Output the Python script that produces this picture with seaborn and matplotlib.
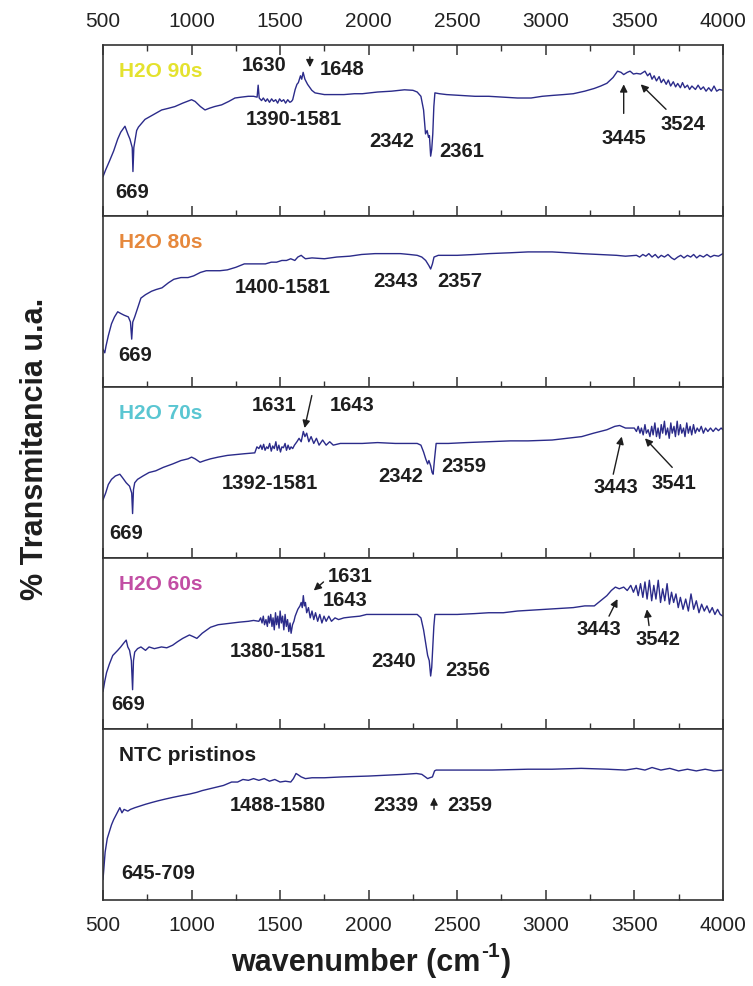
import matplotlib
matplotlib.use("Agg")
import matplotlib.pyplot as plt
from matplotlib.ticker import MultipleLocator
import pandas as pd
import seaborn as sns

# ---- FTIR spectra (wavenumber in cm-1, transmittance in arbitrary units) ----
wn_90 = [500, 515, 536, 560, 583, 600, 624, 640, 652, 665,
         669, 674, 690, 700, 737, 780, 831, 870, 906, 950,
         1000, 1020, 1050, 1076, 1100, 1130, 1170, 1210, 1245, 1280,
         1320, 1350, 1370, 1376, 1382, 1395, 1405, 1418, 1428, 1440,
         1452, 1463, 1475, 1486, 1497, 1508, 1520, 1531, 1543, 1555,
         1564, 1571, 1585, 1595, 1603, 1615, 1622, 1630, 1640, 1655,
         1679, 1697, 1750, 1810, 1860, 1920, 1964, 2050, 2130, 2202,
         2250, 2274, 2295, 2310, 2321, 2330, 2338, 2343, 2350, 2356,
         2362, 2368, 2374, 2400, 2440, 2520, 2600, 2678, 2760, 2840,
         2917, 2980, 3036, 3100, 3155, 3220, 3274, 3310, 3345, 3380,
         3405, 3425, 3440, 3460, 3476, 3495, 3512, 3535, 3560, 3575,
         3588, 3600, 3612, 3625, 3640, 3652, 3665, 3680, 3692, 3705,
         3720, 3733, 3745, 3760, 3772, 3785, 3800, 3812, 3825, 3845,
         3860, 3875, 3890, 3905, 3920, 3935, 3950, 3965, 3980, 4000]
t_90 = [23, 27, 32, 38, 45, 49, 52.5, 48, 45, 40,
        26, 40, 50, 52, 56.5, 59, 62, 63, 64, 66,
        68, 67, 64, 62, 63, 64, 65, 67, 69, 69.5,
        70, 70, 69.5, 76.5, 69, 67.5, 69, 67, 68.5, 66.5,
        68.5, 67, 68, 66, 68.5, 67, 68, 66, 68, 66.5,
        67, 68, 74, 77, 78, 82, 80, 84, 80, 77,
        73.5, 72, 71, 71, 71, 71.5, 71.5, 72.5, 73, 73.8,
        73.5, 72.5, 70, 62, 48, 50, 46, 47, 35, 39,
        48, 64, 72, 71.5, 71, 70.5, 70, 70, 69.5, 69,
        69, 70, 70.5, 71, 71.5, 73, 74.6, 76, 77.6, 81,
        84.7, 84, 82.7, 84, 84.7, 83, 83.4, 83, 84.7, 82,
        83.5, 80, 82, 79, 81.5, 78, 80, 77, 79.5, 76,
        78.5, 75.5, 77.5, 75, 78, 75, 76.5, 74, 76, 74,
        76.5, 74, 75.5, 73, 75, 73, 76, 73, 74, 73.5]

wn_80 = [500, 510, 517, 530, 548, 565, 583, 600, 619, 643, 655, 662, 668, 679, 695, 714, 740, 774, 800, 833,
         870, 900, 940, 980, 1012, 1050, 1083, 1120, 1160, 1202, 1250, 1298, 1340, 1380, 1417, 1450, 1480, 1510,
         1536, 1560, 1583, 1600, 1619, 1630, 1643, 1680, 1750, 1820, 1893, 1960, 2036, 2110, 2179, 2230, 2274,
         2300, 2322, 2340, 2350, 2360, 2369, 2393, 2500, 2600, 2678, 2800, 2900, 3036, 3120, 3200, 3300, 3400,
         3450, 3512, 3530, 3548, 3565, 3582, 3600, 3618, 3635, 3652, 3670, 3690, 3710, 3726, 3745, 3762, 3780,
         3800, 3818, 3835, 3852, 3870, 3890, 3910, 3930, 3950, 3975, 4000]
t_80 = [22, 20, 24, 30, 37, 41, 44, 43, 42, 41, 38, 28, 38, 41, 46, 52, 54, 56, 57, 58,
        61, 63, 64, 64, 65, 67, 68, 68, 68, 68.5, 70, 72, 72, 72, 72, 73, 73, 74,
        74, 75, 74, 76, 77, 76, 75, 75.5, 75, 76, 76.5, 77.5, 78, 78, 78, 77.5, 77,
        76, 74, 71, 69, 72, 76, 77, 77, 77.5, 78, 78.5, 79, 79, 78.5, 78, 77.5, 77,
        76.5, 77, 76, 77.5, 76.5, 78, 76, 77.5, 75.5, 77, 76, 77.5, 75.5, 74.5, 76, 77, 75.5,
        77, 76, 77.5, 75.5, 77, 76, 77.5, 76, 77, 76.5, 78]

wn_70 = [500, 515, 530, 548, 570, 595, 610, 631, 650, 662, 667, 672, 679, 695, 726, 760, 798, 840, 893, 940,
         980, 1000, 1020, 1048, 1075, 1107, 1150, 1202, 1250, 1300, 1357, 1369, 1380, 1390, 1398, 1407, 1415,
         1424, 1432, 1441, 1450, 1458, 1467, 1476, 1484, 1493, 1502, 1510, 1519, 1528, 1536, 1545, 1554, 1562,
         1571, 1581, 1595, 1607, 1619, 1631, 1640, 1650, 1662, 1675, 1690, 1705, 1720, 1740, 1760, 1780, 1800,
         1840, 1900, 1964, 2050, 2150, 2274, 2295, 2310, 2322, 2333, 2340, 2350, 2358, 2364, 2372, 2381, 2450,
         2550, 2678, 2800, 2900, 3036, 3120, 3203, 3270, 3345, 3390, 3417, 3450, 3488, 3500, 3512, 3522, 3532,
         3540, 3550, 3560, 3568, 3578, 3588, 3598, 3606, 3616, 3625, 3634, 3643, 3652, 3660, 3670, 3678, 3688,
         3697, 3706, 3714, 3724, 3732, 3742, 3750, 3760, 3768, 3778, 3786, 3796, 3805, 3815, 3824, 3834, 3844,
         3855, 3866, 3878, 3890, 3902, 3915, 3930, 3945, 3960, 3975, 3990, 4000]
t_70 = [34, 38, 43, 46, 48, 49, 47, 44, 42, 38, 26, 40, 44, 46, 48, 50, 51, 53, 55, 57,
        58, 59, 58, 56, 57, 58, 59, 60, 60.5, 61, 61.5, 65, 64, 66, 63.5, 66.5, 63,
        65, 64, 67, 62.5, 65.5, 64, 68, 63, 66, 62, 65, 64.5, 67, 63, 66, 63.5, 65,
        64, 66, 68, 70, 68, 74, 71, 73, 68, 71, 67, 70, 66, 69, 66, 68, 66,
        67, 67, 67, 67.5, 67, 67, 66, 62, 58, 55, 57, 54, 50, 49, 58, 67, 67,
        67.5, 68, 68.5, 68.5, 69, 70, 71, 73, 75, 77, 77.5, 76, 76, 76, 74, 77, 73,
        76, 72, 78, 73, 75, 71, 77, 72, 79, 71, 76, 70, 78, 73, 80, 72, 76,
        70, 79, 73, 77, 71, 80, 72, 78, 73, 76, 71, 79, 73, 77, 72, 78, 73,
        76, 74, 77, 73, 76, 74, 76, 74, 76, 74.5, 76, 75]

wn_60 = [500, 510, 520, 536, 555, 583, 600, 615, 631, 640, 650, 660, 667, 672, 679, 695, 714, 740, 760, 790,
         830, 860, 893, 920, 950, 988, 1010, 1030, 1060, 1107, 1150, 1190, 1226, 1270, 1321, 1350, 1380, 1390,
         1398, 1405, 1412, 1420, 1428, 1434, 1440, 1447, 1454, 1460, 1467, 1474, 1480, 1487, 1494, 1500, 1507,
         1514, 1521, 1528, 1535, 1542, 1549, 1556, 1562, 1570, 1578, 1585, 1600, 1612, 1619, 1625, 1631, 1637,
         1643, 1650, 1660, 1670, 1680, 1690, 1700, 1712, 1724, 1736, 1748, 1760, 1775, 1790, 1810, 1830, 1860,
         1900, 1950, 1988, 2050, 2150, 2230, 2274, 2295, 2310, 2322, 2333, 2342, 2350, 2356, 2362, 2368, 2374,
         2420, 2500, 2600, 2678, 2760, 2840, 2917, 3000, 3080, 3155, 3220, 3274, 3310, 3345, 3370, 3393, 3415,
         3440, 3460, 3480, 3495, 3510, 3522, 3535, 3548, 3560, 3572, 3585, 3598, 3610, 3622, 3635, 3648, 3660,
         3672, 3685, 3698, 3710, 3722, 3735, 3748, 3760, 3775, 3790, 3805, 3820, 3835, 3850, 3865, 3880, 3895,
         3910, 3925, 3940, 3955, 3970, 3985, 4000]
t_60 = [22, 28, 33, 38, 43, 46, 48, 50, 52, 48, 46, 40, 23, 40, 45, 47, 48, 46, 48, 47,
        48, 47.5, 49, 51, 53, 55, 54, 53, 56, 59.5, 61, 61.5, 62, 62.5, 63, 63.5, 63, 65,
        62, 66, 61, 64, 60, 66, 62, 67, 60, 65, 58, 68, 61, 66, 59, 69, 62,
        66, 58, 67, 60, 64, 57, 62, 56, 61, 63, 66, 70, 72, 74, 71, 78, 72,
        74, 68, 71, 65, 69, 64, 68, 63, 67, 62, 66, 63, 66, 63, 65, 64, 65,
        65.5, 66, 67, 67, 67, 67, 67, 65, 58, 50, 43, 40, 31, 36, 48, 60, 67,
        67, 67, 67.5, 68, 68, 69, 69.5, 70, 70.5, 71, 72, 72, 75, 78, 81, 83, 82,
        83, 81, 84, 80, 84, 78, 85, 77, 86, 76, 87, 75, 84, 76, 87, 74, 82,
        75, 85, 73, 80, 74, 79, 71, 77, 70, 76, 69, 79, 70, 75, 68, 73, 69,
        72, 68, 71, 67, 70, 67, 66]

wn_ntc = [500, 506, 512, 518, 524, 536, 548, 560, 575, 595, 607, 619, 640, 655, 680, 710, 740, 774, 810, 850,
          893, 940, 990, 1030, 1060, 1100, 1140, 1180, 1226, 1260, 1290, 1321, 1350, 1380, 1410, 1440, 1470,
          1500, 1530, 1560, 1575, 1590, 1605, 1619, 1643, 1680, 1750, 1850, 2000, 2100, 2200, 2270, 2300, 2320,
          2333, 2345, 2360, 2372, 2381, 2500, 2700, 2900, 3036, 3200, 3350, 3450, 3512, 3560, 3600, 3650, 3700,
          3750, 3800, 3850, 3900, 3950, 4000]
t_ntc = [12, 20, 28, 32, 36, 40, 44, 47, 50, 54, 51, 53, 52, 53, 54, 55, 56, 57, 58, 59,
         60, 61, 62, 63, 64, 65, 66, 67, 69, 69, 70.5, 70, 71, 70, 71, 69.5, 70.5,
         69, 69.5, 69, 71, 74, 73, 72, 71, 71.5, 71.5, 72, 72.5, 73, 73.5, 74, 73.5, 72,
         71, 71.5, 72, 75.5, 76, 76, 76, 76.5, 76.5, 77, 76.5, 76, 77, 76, 77.5, 76, 77,
         75.5, 76.5, 75.5, 76.5, 75.5, 76]

samples = ["H2O 90s", "H2O 80s", "H2O 70s", "H2O 60s", "NTC pristinos"]
sample_colors = ["#e4e22e", "#e6883c", "#5ac6d2", "#c24ea4", "#1e1e1e"]
spectra = [(wn_90, t_90), (wn_80, t_80), (wn_70, t_70), (wn_60, t_60), (wn_ntc, t_ntc)]

# peak labels per panel: (text, wavenumber, transmittance)
peak_labels = [
    [("669", 667, 14.5), ("1630", 1412, 88.8), ("1648", 1850, 86), ("1390-1581", 1575, 57),
     ("2342", 2131, 44), ("2361", 2524, 38.5), ("3445", 3440, 46), ("3524", 3774, 54)],
    [("669", 679, 19), ("1400-1581", 1512, 59), ("2343", 2155, 62), ("2357", 2512, 62)],
    [("669", 631, 15), ("1631", 1464, 89.5), ("1643", 1905, 89.5), ("1392-1581", 1440, 44),
     ("2342", 2179, 48), ("2359", 2536, 54), ("3443", 3393, 42), ("3541", 3726, 44)],
    [("669", 643, 15), ("1631", 1893, 90), ("1643", 1869, 76), ("1380-1581", 1488, 46),
     ("2340", 2143, 40), ("2356", 2560, 35), ("3443", 3298, 58.5), ("3542", 3631, 53)],
    [("645-709", 810, 16), ("1488-1580", 1488, 56), ("2339", 2155, 56), ("2359", 2571, 56)],
]

# arrows per panel: (tail wavenumber, tail T, head wavenumber, head T)
peak_arrows = [
    [(1668, 93, 1668, 87), (3440, 60, 3440, 77), (3679, 62.4, 3536, 77)],
    [],
    [(1679, 95, 1638, 76), (3381, 49, 3429, 71), (3714, 53, 3560, 70)],
    [(1745, 86, 1690, 81), (3357, 66, 3405, 76), (3583, 60.5, 3571, 70)],
    [(2369, 53, 2369, 60)],
]

sns.set_style("white")
plt.rcParams["font.family"] = ["Liberation Sans", "DejaVu Sans"]
line_color = "#2b2b8a"
ink = "#1e1e1e"

fig, axes = plt.subplots(5, 1, figsize=(7.53, 9.87), dpi=100, sharex=True)
fig.subplots_adjust(left=0.1368, right=0.960, top=0.9534, bottom=0.0871, hspace=0)

for i, ax in enumerate(axes):
    wn, t = spectra[i]
    df = pd.DataFrame({"wavenumber": wn, "T": t})
    sns.lineplot(data=df, x="wavenumber", y="T", ax=ax, color=line_color, linewidth=1.0,
                 estimator=None, sort=False)
    ax.set_xlim(500, 4000)
    ax.set_ylim(0, 100)
    ax.set_xlabel("")
    ax.set_ylabel("")
    ax.set_yticks([])
    ax.xaxis.set_major_locator(MultipleLocator(500))
    ax.xaxis.set_minor_locator(MultipleLocator(250))
    ax.tick_params(axis="x", which="major", direction="in", length=7, width=1.1, color="#333333",
                   labelsize=15, pad=11, labelcolor="#222222", bottom=True, top=(i == 0),
                   labelbottom=(i == 4), labeltop=(i == 0))
    ax.tick_params(axis="x", which="minor", direction="in", length=4, width=1.0, color="#333333",
                   bottom=True, top=(i == 0))
    for sp in ax.spines.values():
        sp.set_color("#333333")
        sp.set_linewidth(1.2)

    ax.text(590, 85, samples[i], color=sample_colors[i], fontsize=15, fontweight="bold",
            ha="left", va="center")
    for label, x, y in peak_labels[i]:
        ax.text(x, y, label, fontsize=14.5, fontweight="bold", color=ink, ha="center", va="center")
    for x0, y0, x1, y1 in peak_arrows[i]:
        ax.annotate("", xy=(x1, y1), xytext=(x0, y0),
                    arrowprops=dict(arrowstyle="-|>", color=ink, lw=1.0,
                                    mutation_scale=11, shrinkA=0, shrinkB=0))

fig.text(0.046, 1 - 449 / 987, "% Transmitancia u.a.", rotation=90, ha="center", va="center",
         fontsize=22, fontweight="bold", color=ink)

# x-axis title assembled from pieces so the exponent keeps a plain hyphen
W, H = fig.bbox.width, fig.bbox.height
renderer = fig.canvas.get_renderer()
parts = [("wavenumber (cm", 22, 0), ("-1", 15, 14), (")", 22, 0)]
texts = [fig.text(0, 0, s, fontsize=fs, fontweight="bold", color=ink, ha="left", va="baseline")
         for s, fs, _ in parts]
widths = [t.get_window_extent(renderer).width for t in texts]
x_px = 370 - sum(widths) / 2
base_px = H - 971
for t, w, (_, _, dy) in zip(texts, widths, parts):
    t.set_position((x_px / W, (base_px + dy) / H))
    x_px += w + 1

fig.savefig("out.png", dpi=100)
